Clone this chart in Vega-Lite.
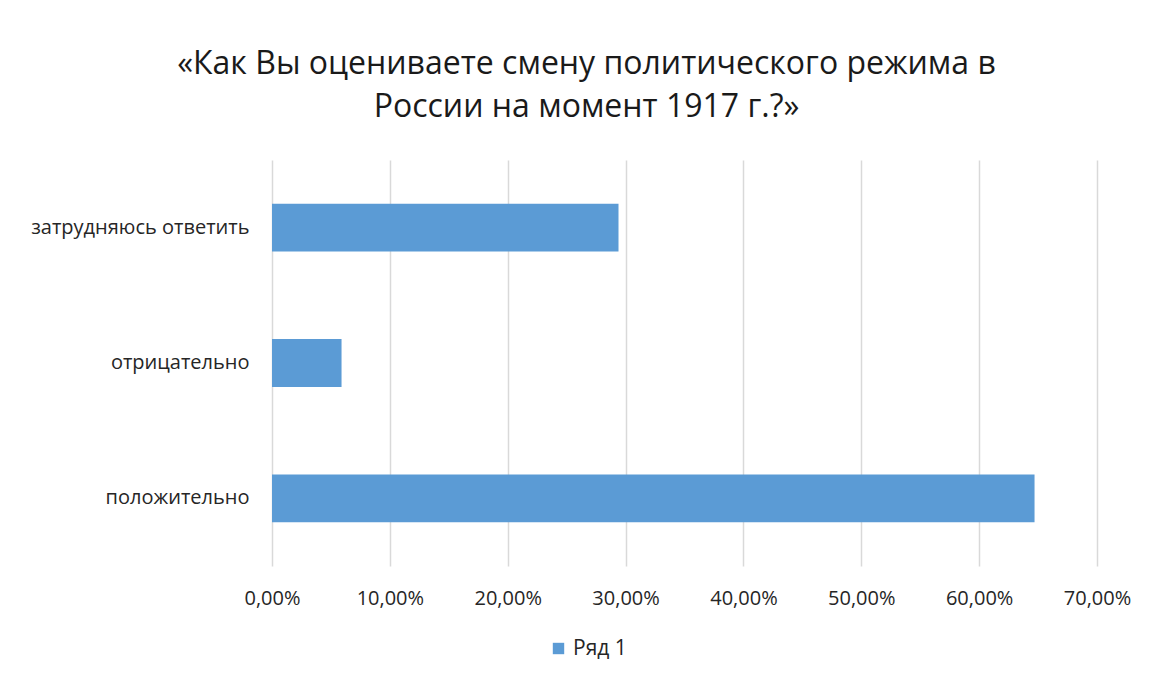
{
  "$schema": "https://vega.github.io/schema/vega-lite/v6.json",
  "width": 825,
  "height": 406,
  "autosize": "none",
  "padding": {"left": 272, "top": 160, "right": 53, "bottom": 113},
  "background": "white",
  "title": {
    "text": ["«Как Вы оцениваете смену политического режима в", "России на момент 1917 г.?»"],
    "font": "Open Sans",
    "fontSize": 32,
    "fontWeight": "normal",
    "color": "#1a1a1a",
    "anchor": "middle",
    "dx": -98,
    "offset": 36,
    "lineHeight": 43
  },
  "data": {
    "values": [
      {"answer": "затрудняюсь ответить", "value": 0.294, "series": "Ряд 1"},
      {"answer": "отрицательно", "value": 0.059, "series": "Ряд 1"},
      {"answer": "положительно", "value": 0.647, "series": "Ряд 1"}
    ]
  },
  "mark": {"type": "bar"},
  "encoding": {
    "y": {
      "field": "answer",
      "type": "nominal",
      "sort": ["затрудняюсь ответить", "отрицательно", "положительно"],
      "scale": {"paddingInner": 0.646, "paddingOuter": 0.323},
      "axis": {
        "title": null,
        "ticks": false,
        "domain": false,
        "labelFont": "Open Sans",
        "labelFontSize": 20,
        "labelColor": "#262626",
        "labelPadding": 23,
        "labelLimit": 0
      }
    },
    "x": {
      "field": "value",
      "type": "quantitative",
      "scale": {"domain": [0, 0.7], "nice": false},
      "axis": {
        "title": null,
        "labelExpr": "replace(format(datum.value, '.2%'), '.', ',')",
        "values": [0, 0.1, 0.2, 0.3, 0.4, 0.5, 0.6, 0.7],
        "ticks": false,
        "domain": false,
        "grid": true,
        "gridColor": "#d9d9d9",
        "gridWidth": 1.5,
        "labelFont": "Open Sans",
        "labelFontSize": 20,
        "labelColor": "#262626",
        "labelPadding": 22,
        "labelFlush": false,
        "labelOverlap": false,
        "labelLimit": 0
      }
    },
    "color": {
      "field": "series",
      "type": "nominal",
      "scale": {"range": ["#5b9bd5"]},
      "legend": {
        "title": null,
        "orient": "none",
        "legendX": 276,
        "legendY": 478,
        "symbolType": "square",
        "symbolSize": 130,
        "symbolStrokeWidth": 0,
        "labelFont": "Open Sans",
        "labelFontSize": 21,
        "labelColor": "#262626"
      }
    }
  },
  "config": {
    "view": {"stroke": null}
  }
}
